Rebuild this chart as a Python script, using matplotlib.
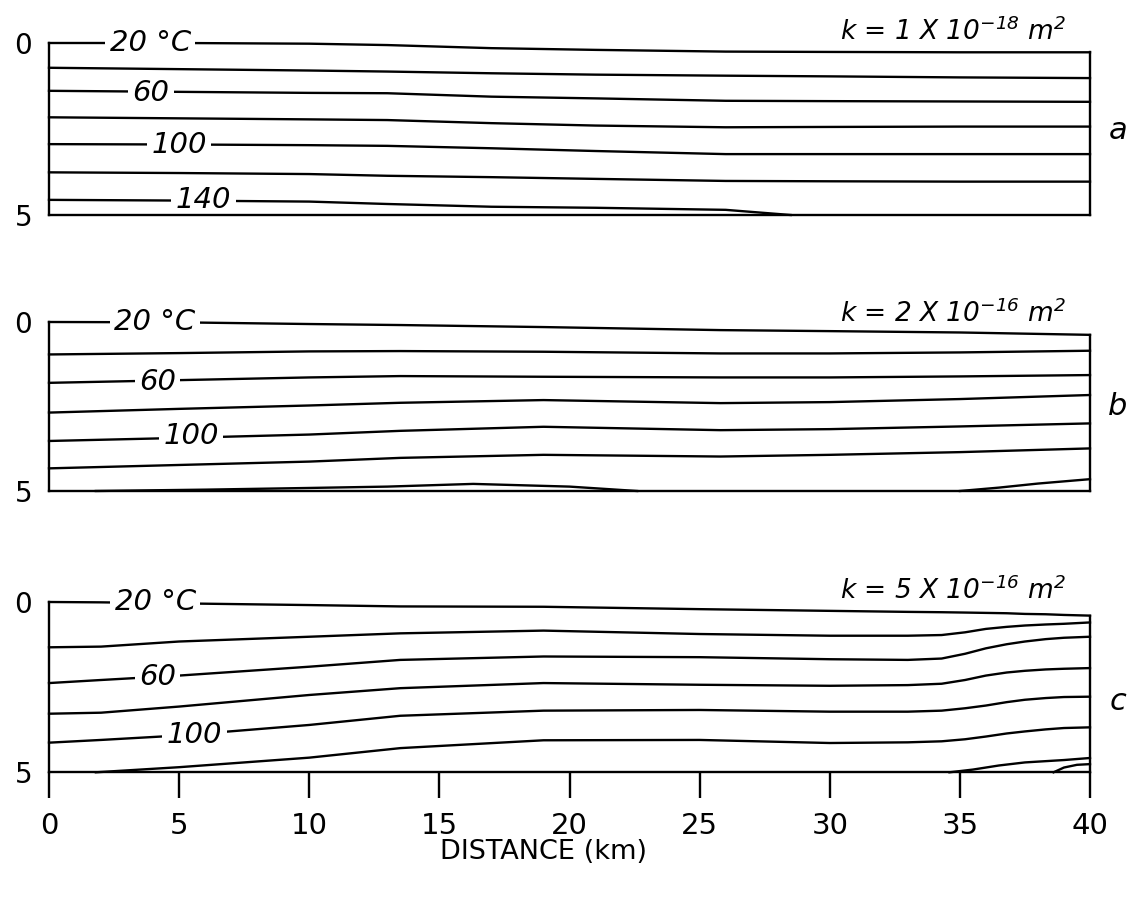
import matplotlib.pyplot as plt

plt.rcParams['font.family'] = 'DejaVu Sans'
plt.rcParams['mathtext.default'] = 'regular'

# isotherm depths (km), panel a: k = 1e-18 m2
xa = [0, 5, 10, 13, 17, 21, 26, 30, 35, 40]
a_20 = [0.0, 0.0, 0.02, 0.06, 0.15, 0.20, 0.25, 0.26, 0.27, 0.27]
a_40 = [0.72, 0.76, 0.80, 0.83, 0.88, 0.92, 0.95, 0.97, 1.00, 1.02]
a_60 = [1.39, 1.42, 1.45, 1.46, 1.56, 1.61, 1.68, 1.69, 1.70, 1.71]
a_80 = [2.16, 2.19, 2.22, 2.24, 2.33, 2.40, 2.45, 2.44, 2.43, 2.43]
a_100 = [2.94, 2.95, 2.97, 2.99, 3.06, 3.14, 3.23, 3.23, 3.23, 3.23]
a_120 = [3.76, 3.78, 3.81, 3.86, 3.90, 3.95, 4.01, 4.02, 4.03, 4.03]
xa_140 = [0, 5, 10, 13, 17, 21, 26, 28.5]
a_140 = [4.56, 4.58, 4.61, 4.68, 4.76, 4.79, 4.85, 5.0]

# panel b: k = 2e-16 m2
xb = [0, 5, 10, 13.5, 19, 25.8, 30, 35, 40]
b_20 = [0.0, 0.01, 0.06, 0.09, 0.15, 0.24, 0.27, 0.31, 0.38]
b_40 = [0.96, 0.92, 0.87, 0.86, 0.88, 0.93, 0.93, 0.90, 0.85]
b_60 = [1.80, 1.72, 1.64, 1.60, 1.62, 1.64, 1.64, 1.61, 1.57]
b_80 = [2.68, 2.57, 2.47, 2.39, 2.31, 2.40, 2.37, 2.28, 2.16]
b_100 = [3.52, 3.43, 3.33, 3.22, 3.10, 3.20, 3.17, 3.09, 3.00]
b_120 = [4.33, 4.23, 4.13, 4.02, 3.93, 3.98, 3.93, 3.85, 3.74]
xb_140 = [1.8, 6, 10, 13, 16.3, 20, 22.6]
b_140 = [5.0, 4.96, 4.91, 4.87, 4.79, 4.87, 5.0]
xb_140r = [35, 36.5, 38, 40]
b_140r = [5.0, 4.90, 4.78, 4.65]

# panel c: k = 5e-16 m2
xc = [0, 2, 5, 10, 13.5, 19, 25, 30, 33, 34.3, 35.2, 36, 36.8, 37.5, 38.3, 39, 40]
c_20 = [0.0, 0.01, 0.04, 0.09, 0.13, 0.14, 0.21, 0.26, 0.29, 0.30, 0.31, 0.32,
        0.33, 0.35, 0.36, 0.38, 0.40]
c_40 = [1.33, 1.31, 1.16, 1.02, 0.92, 0.84, 0.94, 0.99, 0.99, 0.97, 0.89, 0.79,
        0.73, 0.69, 0.66, 0.64, 0.60]
c_60 = [2.38, 2.29, 2.16, 1.90, 1.70, 1.60, 1.62, 1.68, 1.70, 1.66, 1.52, 1.36,
        1.24, 1.16, 1.09, 1.05, 1.02]
c_80 = [3.28, 3.25, 3.07, 2.73, 2.53, 2.38, 2.43, 2.46, 2.44, 2.40, 2.29, 2.16,
        2.07, 2.02, 1.98, 1.96, 1.94]
c_100 = [4.13, 4.05, 3.92, 3.61, 3.34, 3.19, 3.17, 3.22, 3.22, 3.19, 3.12, 3.04,
         2.94, 2.87, 2.82, 2.79, 2.78]
xc_120 = [1.8, 5, 10, 13.5, 19, 25, 30, 33, 34.3, 35.2, 36, 36.8, 37.5, 38.3, 39, 40]
c_120 = [5.0, 4.85, 4.57, 4.29, 4.06, 4.05, 4.14, 4.12, 4.09, 4.03, 3.95, 3.86,
         3.80, 3.74, 3.70, 3.68]
xc_140 = [34.6, 35.5, 36.5, 37.5, 39, 40]
c_140 = [5.0, 4.92, 4.80, 4.71, 4.64, 4.58]
xc_160 = [38.6, 39.0, 39.5, 40]
c_160 = [5.0, 4.86, 4.78, 4.76]

dist_ticks = [0, 5, 10, 15, 20, 25, 30, 35, 40]

fig = plt.figure(figsize=(11.33, 9.14), dpi=100)
L, W = 49 / 1133, 1041 / 1133
ax_a = fig.add_axes([L, 699 / 914, W, 172 / 914])
ax_b = fig.add_axes([L, 423 / 914, W, 169 / 914])
ax_c = fig.add_axes([L, 141.7 / 914, W, 170.3 / 914])

LW = 1.7


def setup(ax):
    ax.set_xlim(0, 40)
    ax.set_ylim(5, 0)
    ax.spines['top'].set_visible(False)
    ax.spines['right'].set_visible(False)
    for s in ('left', 'bottom'):
        ax.spines[s].set_linewidth(LW)
        ax.spines[s].set_zorder(5)
    ax.set_yticks([0, 5])
    ax.set_yticklabels(['0', '5'])
    ax.tick_params(axis='y', length=0, pad=12, labelsize=20)
    ax.set_xticks([])


def iso(ax, x, y):
    ax.plot(x, y, color='black', lw=LW, clip_on=False, zorder=2)


def lab(ax, x, y, s):
    ax.text(x, y, s, style='italic', fontsize=21, ha='center', va='center',
            zorder=3, bbox=dict(boxstyle='square,pad=0.15', fc='white', ec='none'))


for ax in (ax_a, ax_b, ax_c):
    setup(ax)

# panel a
for ys in (a_20, a_40, a_60, a_80, a_100, a_120):
    iso(ax_a, xa, ys)
iso(ax_a, xa_140, a_140)
ax_a.plot([40, 40], [a_20[-1], 5], color='black', lw=LW, clip_on=False)
lab(ax_a, 3.9, 0.0, '20 °C')
lab(ax_a, 3.92, 1.44, '60')
lab(ax_a, 5.0, 2.97, '100')
lab(ax_a, 5.94, 4.56, '140')
ax_a.text(30.4, -0.09, 'k = 1 X 10$^{-18}$ m$^{2}$', style='italic', fontsize=19,
          ha='left', va='baseline')
ax_a.text(41.07, 2.53, 'a', style='italic', fontsize=22, ha='center', va='center')

# panel b
for ys in (b_20, b_40, b_60, b_80, b_100, b_120):
    iso(ax_b, xb, ys)
iso(ax_b, xb_140, b_140)
iso(ax_b, xb_140r, b_140r)
ax_b.plot([40, 40], [b_20[-1], 5], color='black', lw=LW, clip_on=False)
lab(ax_b, 4.07, 0.0, '20 °C')
lab(ax_b, 4.17, 1.77, '60')
lab(ax_b, 5.46, 3.37, '100')
ax_b.text(30.4, 0.0, 'k = 2 X 10$^{-16}$ m$^{2}$', style='italic', fontsize=19,
          ha='left', va='baseline')
ax_b.text(41.07, 2.51, 'b', style='italic', fontsize=22, ha='center', va='center')

# panel c
for ys in (c_20, c_40, c_60, c_80, c_100):
    iso(ax_c, xc, ys)
iso(ax_c, xc_120, c_120)
iso(ax_c, xc_140, c_140)
iso(ax_c, xc_160, c_160)
ax_c.plot([40, 40], [c_20[-1], 5], color='black', lw=LW, clip_on=False)
lab(ax_c, 4.09, 0.0, '20 °C')
lab(ax_c, 4.17, 2.19, '60')
lab(ax_c, 5.59, 3.90, '100')
ax_c.text(30.4, -0.08, 'k = 5 X 10$^{-16}$ m$^{2}$', style='italic', fontsize=19,
          ha='left', va='baseline')
ax_c.text(41.07, 2.93, 'c', style='italic', fontsize=22, ha='center', va='center')

ax_c.set_xticks(dist_ticks)
ax_c.set_xticklabels([str(t) for t in dist_ticks])
ax_c.tick_params(axis='x', direction='out', length=18.7, width=LW, pad=10, labelsize=21)

fig.text(544 / 1133, 1 - 852 / 914, 'DISTANCE (km)', fontsize=19.5, ha='center', va='center')

fig.savefig('out.png', dpi=100)
